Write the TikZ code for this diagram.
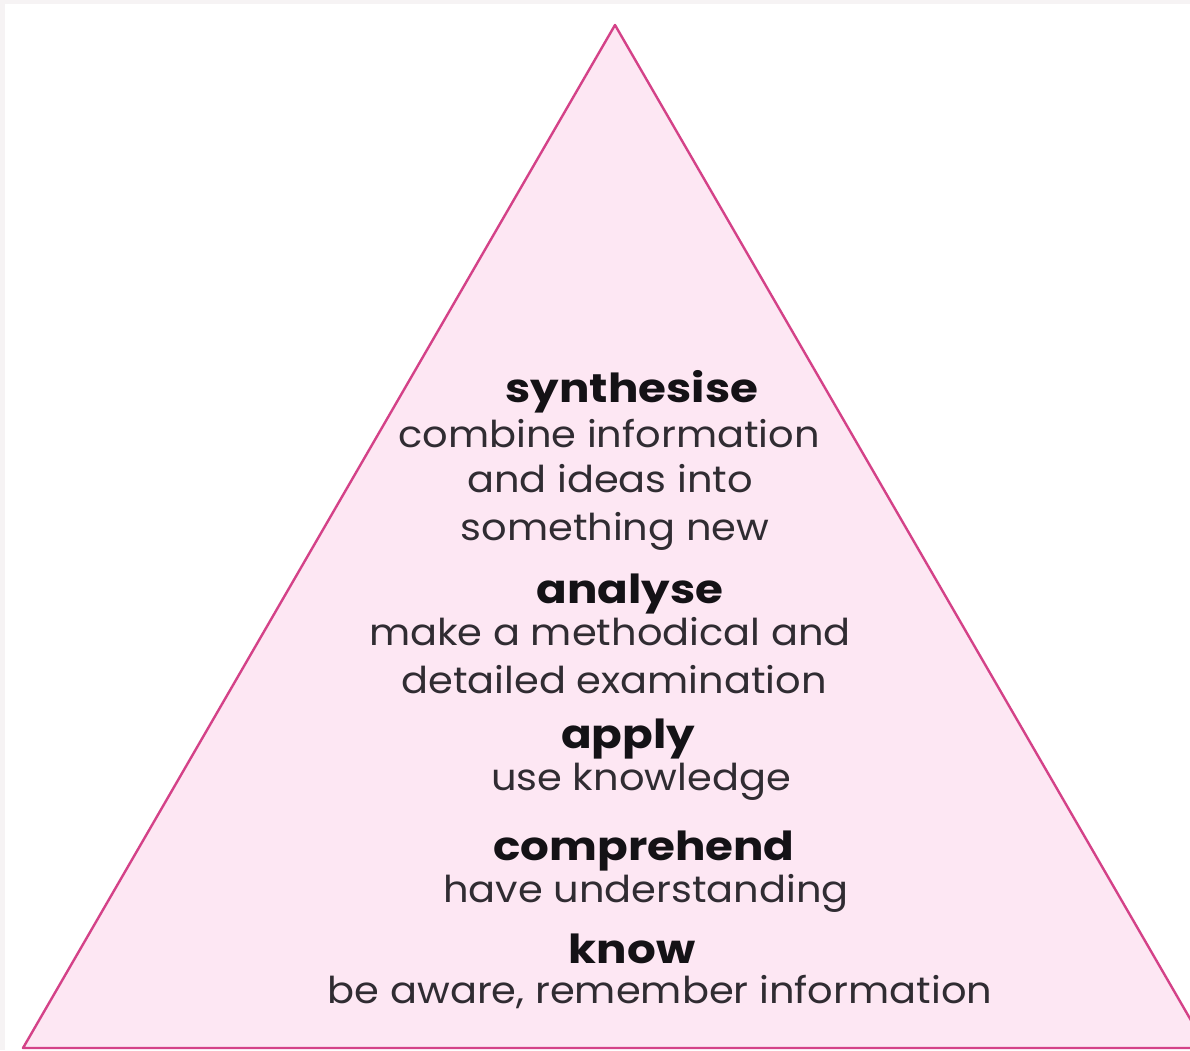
\documentclass[tikz,border=0pt]{standalone}
\usepackage{fontspec}
\setmainfont{Poppins}
\newfontfamily\bodyfont{Poppins}[FakeStretch=1.08]
\newfontfamily\headfont{Poppins Bold}[FakeStretch=1.13]
\definecolor{trifill}{RGB}{253,231,243}
\definecolor{tristroke}{RGB}{212,66,136}
\definecolor{framegray}{RGB}{246,243,244}
\definecolor{headcol}{RGB}{20,18,22}
\definecolor{bodycol}{RGB}{48,44,50}
\begin{document}
\begin{tikzpicture}[x=1pt,y=-1pt,
  head/.style={anchor=base,inner sep=0pt,text=headcol,font=\headfont\fontsize{40}{44}\selectfont},
  body/.style={anchor=base,inner sep=0pt,text=bodycol,font=\bodyfont\fontsize{37}{44}\selectfont}]
\useasboundingbox (0,0) rectangle (1190,1050);
\fill[white] (0,0) rectangle (1190,1050);
\fill[framegray] (0,0) rectangle (1190,4);
\fill[framegray] (0,0) rectangle (5,1050);
\begin{scope}
\clip (0,0) rectangle (1190,1050);
\draw[tristroke,fill=trifill,line width=2.4pt,line join=round] (615,25) -- (23,1048) -- (1207,1048) -- cycle;
\end{scope}
\node[head] (syn) at (632,402) {synthesise};
\node[body] (syn1) at (609,447) {combine information};
\node[body] (syn2) at (610,492) {and ideas into};
\node[body] (syn3) at (615,540) {something new};
\node[head] (ana) at (630,603) {analyse};
\node[body] (ana1) at (610,645) {make a methodical and};
\node[body] (ana2) at (614,693) {detailed examination};
\node[head] (app) at (628,748) {apply};
\node[body] (app1) at (641,790) {use knowledge};
\node[head] (com) at (644,860) {comprehend};
\node[body] (com1) at (646,902) {have understanding};
\node[head] (kno) at (632,963) {know};
\node[body] (kno1) at (660,1003) {be aware, remember information};
\end{tikzpicture}
\end{document}
